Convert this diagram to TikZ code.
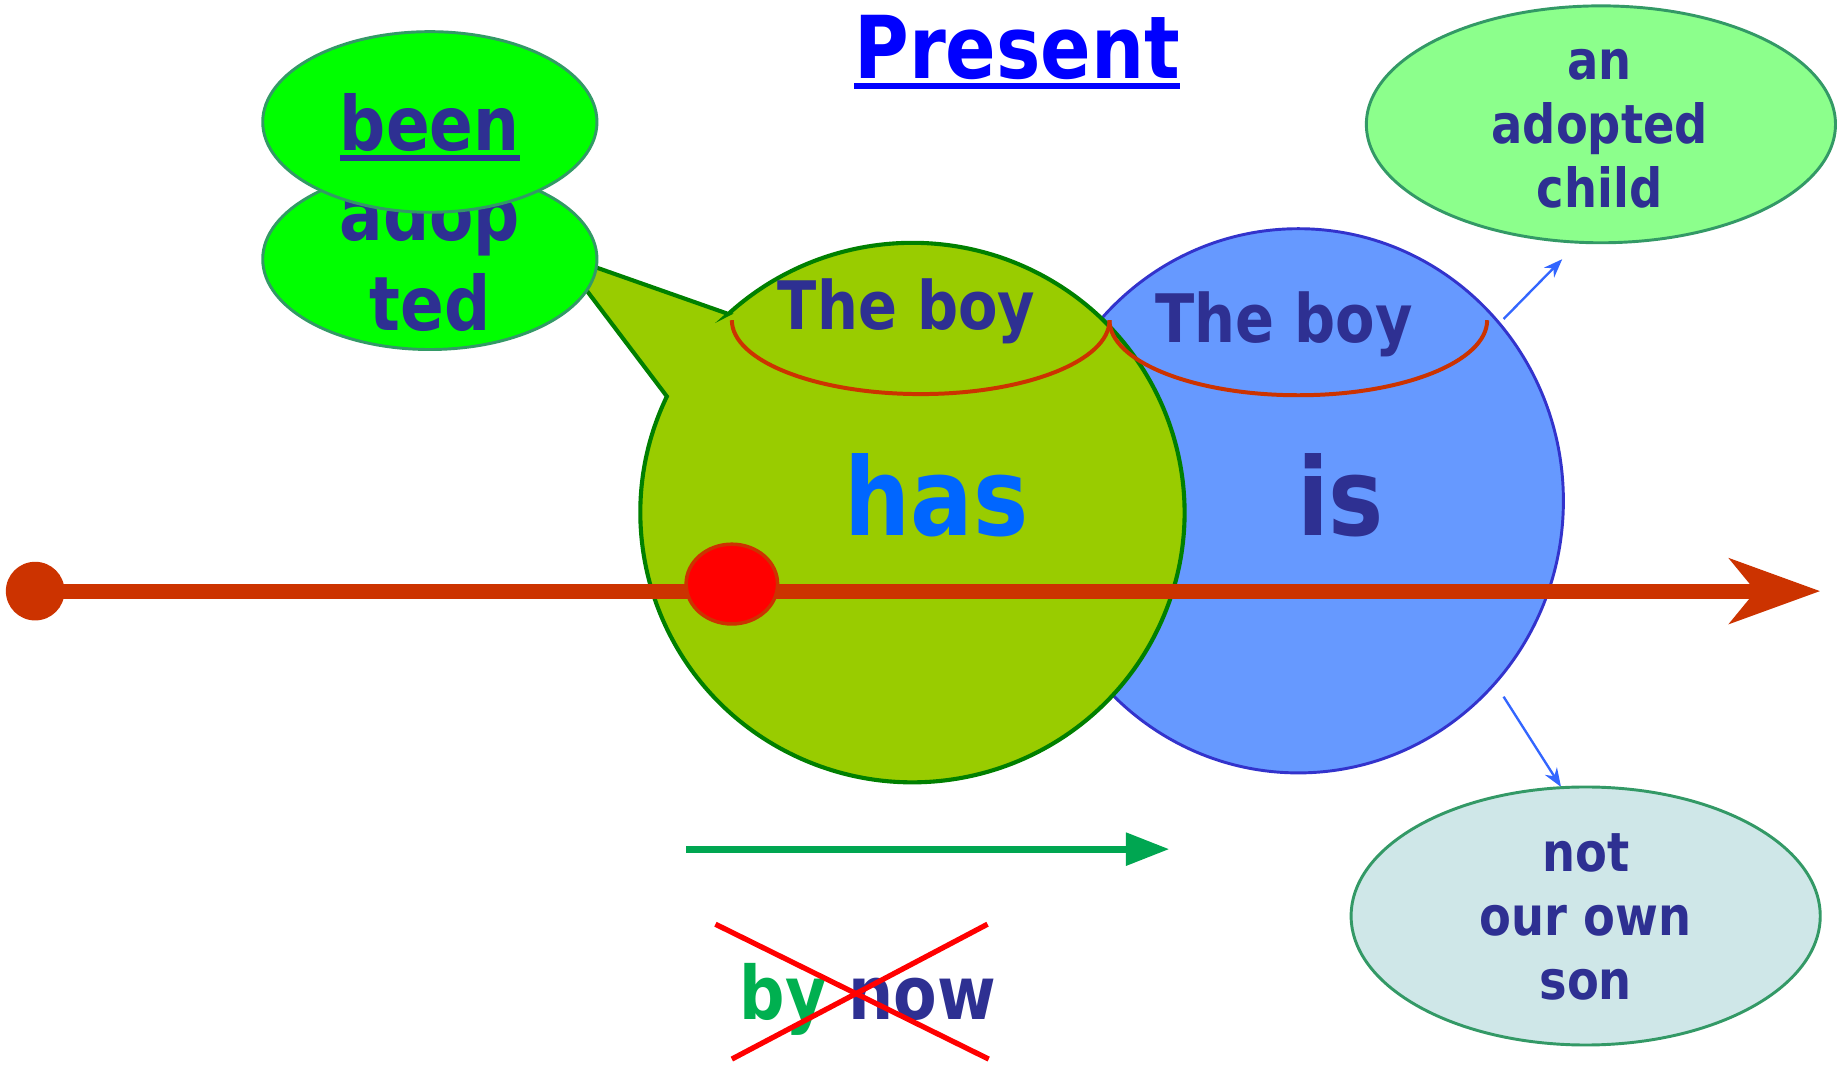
\documentclass[tikz,border=0pt]{standalone}
\usepackage{fontspec}
\setmainfont{DejaVu Sans}[FakeStretch=0.86]
\usetikzlibrary{shapes.geometric,arrows.meta}
\definecolor{navy}{HTML}{2E3092}
\definecolor{pureblue}{HTML}{0000FF}
\definecolor{hasblue}{HTML}{0066FF}
\definecolor{bluefill}{HTML}{6699FF}
\definecolor{blueline}{HTML}{3333CC}
\definecolor{calloutfill}{HTML}{99CC00}
\definecolor{calloutline}{HTML}{008000}
\definecolor{brightgreen}{HTML}{00FF00}
\definecolor{ellline}{HTML}{339966}
\definecolor{lightgreen}{HTML}{8CFF8C}
\definecolor{lightcyan}{HTML}{CFE7E8}
\definecolor{timeline}{HTML}{CC3300}
\definecolor{arrowgreen}{HTML}{00A651}
\definecolor{bygreen}{HTML}{00B050}
\definecolor{smallblue}{HTML}{3366FF}
\newcommand\ulbox[3]{\setbox0=\hbox{#1}\rlap{\rule[-#2]{\wd0}{#3}}\box0}
\tikzset{
  ell/.style={ellipse, inner sep=0pt, draw=ellline, line width=2.5pt},
  txt/.style={inner sep=0pt, text=navy},
  redarc/.style={draw=timeline, line width=3.4pt},
  smallarrow/.style={draw=smallblue, line width=2pt, -{Stealth[length=16pt,width=12pt]}},
  xline/.style={draw=red, line width=4.5pt},
}
\begin{document}
\begin{tikzpicture}[x=1pt,y=-1pt]
\useasboundingbox (0,0) rectangle (1568,908);
\fill[white] (0,0) rectangle (1568,908);

% blue circle (is)
\node[ellipse, inner sep=0pt, minimum width=452pt, minimum height=464pt,
      fill=bluefill, draw=blueline, line width=2.5pt] (isc) at (1107,427) {};

% green callout circle (has)
\draw[line width=3.5pt, draw=calloutline, fill=calloutfill, line join=miter]
  (621,267.7) coordinate (cA) -- (477,217) coordinate (tip)
  -- (568.6,338) coordinate (cB)
  arc[start angle=205.5, end angle=-132.6, x radius=232, y radius=230] -- cycle;

% adopted / been bubbles
\node[ell, fill=brightgreen, minimum width=285pt, minimum height=154pt] (adopE) at (366.5,221) {};
\node[txt, font=\bfseries\fontsize{64}{77}\selectfont, align=center, anchor=base] (adopT) at (366.5,282) {adop\\ted};
\node[ell, fill=brightgreen, minimum width=285pt, minimum height=154pt] (beenE) at (366.5,104) {};
\node[txt, font=\bfseries\fontsize{64}{77}\selectfont, anchor=base] (beenT) at (366.5,128) {\ulbox{been}{9pt}{5pt}};

% title
\node[inner sep=0pt, text=pureblue, font=\bfseries\fontsize{74}{88}\selectfont, anchor=base] (title) at (867.5,67) {\ulbox{Present}{9pt}{5pt}};

% red arcs under "The boy"
\draw[redarc] (624,273) coordinate (arcL) arc[start angle=180, end angle=0, x radius=161, y radius=63];
\draw[redarc] (946,273) coordinate (arcR) arc[start angle=180, end angle=0, x radius=161, y radius=64];

% texts in circles
\node[txt, font=\bfseries\fontsize{57}{68}\selectfont, anchor=base] (boy1) at (773,281) {The boy};
\node[txt, font=\bfseries\fontsize{57}{68}\selectfont, anchor=base] (boy2) at (1095,292) {The boy};
\node[inner sep=0pt, text=hasblue, font=\bfseries\fontsize{92}{110}\selectfont, anchor=base] (has) at (798.5,457) {has};
\node[txt, font=\bfseries\fontsize{92}{110}\selectfont, anchor=base] (is) at (1143,457) {is};

% timeline
\node[circle, fill=timeline, minimum size=50pt, inner sep=0pt] (t0) at (30,504) {};
\coordinate (t1) at (1552,504);
\draw[line width=12.8pt, draw=timeline, fill=timeline, -{Stealth[length=77pt,width=55pt,inset=22pt]}] (t0.center) -- (t1);
\node[ellipse, inner sep=0pt, minimum width=78pt, minimum height=68pt,
      fill=red, draw=timeline, line width=3pt] (nowdot) at (624,498) {};

% small arrows
\coordinate (a1s) at (1282,272); \coordinate (a1e) at (1332,221);
\draw[smallarrow] (a1s) -- (a1e);
\coordinate (a2s) at (1282,594); \coordinate (a2e) at (1331,671);
\draw[smallarrow] (a2s) -- (a2e);

% right bubbles
\node[ell, fill=lightgreen, minimum width=400pt, minimum height=202pt] (childE) at (1365,106) {};
\node[txt, font=\bfseries\fontsize{46}{54.5}\selectfont, align=center, anchor=base] (childT) at (1364,177) {an\\adopted\\child};
\node[ell, fill=lightcyan, minimum width=400pt, minimum height=220pt] (sonE) at (1352,781) {};
\node[txt, font=\bfseries\fontsize{46}{54.5}\selectfont, align=center, anchor=base] (sonT) at (1352,852) {not\\our own\\son};

% green arrow
\coordinate (g0) at (585,724); \coordinate (g1) at (997,724);
\draw[line width=5.8pt, draw=arrowgreen, fill=arrowgreen, -{Triangle[length=37pt,width=27pt]}] (g0) -- (g1);

% by now, crossed out
\node[inner sep=0pt, font=\bfseries\fontsize{63}{75}\selectfont, anchor=base] (bynow) at (740,869) {\textcolor{bygreen}{by} \textcolor{navy}{now}};
\coordinate (x1) at (610,788); \coordinate (x2) at (843,903);
\coordinate (x3) at (842,788); \coordinate (x4) at (624,903);
\draw[xline] (x1) -- (x2);
\draw[xline] (x3) -- (x4);
\end{tikzpicture}
\end{document}
